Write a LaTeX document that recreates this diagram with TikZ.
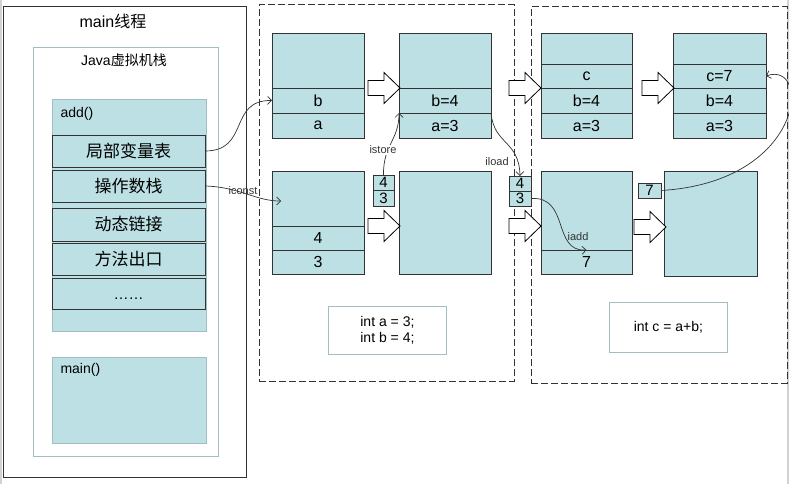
\documentclass[tikz,border=0pt]{standalone}
\usepackage{fontspec}
\setmainfont{Liberation Sans}
\newfontfamily\cjk{Noto Sans CJK SC}
\usetikzlibrary{positioning,arrows.meta}

\definecolor{stackfill}{HTML}{BCE0E3}
\definecolor{paleline}{HTML}{A3BEC2}
\definecolor{darkline}{HTML}{333333}

\tikzset{
	cell/.style={draw=darkline, fill=stackfill, line width=0.8pt, inner sep=0pt, outer sep=0pt, font=\fontsize{16}{16}\selectfont},
	row/.style={cell, minimum width=153, font=\cjk\fontsize{17}{17}\selectfont},
	stage/.style={draw=darkline, line width=1pt, dash pattern=on 7pt off 3pt, inner sep=0pt, outer sep=0pt},
	codebox/.style={draw=paleline, fill=white, line width=0.8pt, align=center, inner sep=0pt, font=\fontsize{14}{16}\selectfont},
	opname/.style={font=\fontsize{11}{11}\selectfont, text=darkline, inner sep=1pt},
	jump/.style={draw=darkline, line width=0.7pt, -{Straight Barb[length=4pt,width=8pt]}},
	fatarrow/.pic={
		\draw[fill=white, line width=0.8pt, line join=miter]
			(0,-7.5) -- (16,-7.5) -- (16,-15.5) -- (32,0) -- (16,15.5) -- (16,7.5) -- (0,7.5) -- cycle;
	}
}

\begin{document}
\begin{tikzpicture}[x=1pt, y=-1pt]
	\useasboundingbox (0,0) rectangle (789,484);
	\draw[gray!35, line width=2pt] (1,0) -- (1,484);
	\draw[gray!35, line width=2pt] (788,0) -- (788,484);

	% main thread and its stack
	\node[draw=darkline, line width=0.8pt, inner sep=0pt, minimum width=243, minimum height=471, anchor=north west] (thread) at (3,6) {};
	\node[font=\fontsize{16}{16}\selectfont] (threadname) at (113,21) {main{\cjk 线程}};
	\node[draw=paleline, line width=0.8pt, inner sep=0pt, minimum width=185, minimum height=409, anchor=north west] (jvm) at (33,47) {};
	\node[font=\fontsize{14}{14}\selectfont] (jvmname) at (124,60) {Java{\cjk 虚拟机栈}};
	\node[draw=paleline, fill=stackfill, line width=0.8pt, inner sep=0pt, minimum width=154, minimum height=232, anchor=north west] (addframe) at (52,99) {};
	\node[anchor=west, font=\fontsize{14}{14}\selectfont] (addname) at (57,114) {add()};
	\node[row, minimum height=32, anchor=north west] (vars) at (52,135) {局部变量表};
	\node[row, minimum height=32, below=3pt of vars] (ops) {操作数栈};
	\node[row, minimum height=33, below=6pt of ops] (dyn) {动态链接};
	\node[row, minimum height=32, below=2pt of dyn] (ret) {方法出口};
	\node[row, minimum height=31, below=3pt of ret, font=\fontsize{15}{15}\selectfont, text height=14pt, text depth=2pt] (more) {……};
	\node[draw=paleline, fill=stackfill, line width=0.8pt, inner sep=0pt, minimum width=154, minimum height=86, anchor=north west] (mainframe) at (52,357) {};
	\node[anchor=west, font=\fontsize{14}{14}\selectfont] (mainname) at (57,370) {main()};

	% the two stages
	\node[stage, minimum width=255, minimum height=376, anchor=north west] (stage1) at (259,5) {};
	\node[stage, minimum width=256, minimum height=376, anchor=north west] (stage2) at (531,7) {};

	% stage 1: locals
	\node[cell, minimum width=92, minimum height=55, anchor=north west] (lv1top) at (272,33) {};
	\node[cell, minimum width=92, minimum height=25, below=0pt of lv1top] (lv1b) {b};
	\node[cell, minimum width=92, minimum height=25, below=0pt of lv1b] (lv1a) {a};
	\node[cell, minimum width=92, minimum height=55, anchor=north west] (lv2top) at (399,33) {};
	\node[cell, minimum width=92, minimum height=25, below=0pt of lv2top] (lv2b) {b=4};
	\node[cell, minimum width=92, minimum height=25, below=0pt of lv2b] (lv2a) {a=3};
	% stage 1: operand stack
	\node[cell, minimum width=92, minimum height=55, anchor=north west] (os1top) at (272,171) {};
	\node[cell, minimum width=92, minimum height=24, below=0pt of os1top] (os1four) {4};
	\node[cell, minimum width=92, minimum height=24, below=0pt of os1four] (os1three) {3};
	\node[cell, minimum width=92, minimum height=103, anchor=north west] (os2) at (399,171) {};
	\node[cell, minimum width=21, minimum height=15.5, anchor=north west, font=\fontsize{15}{15}\selectfont] (ss1top) at (373,175) {4};
	\node[cell, minimum width=21, minimum height=15.5, below=0pt of ss1top, font=\fontsize{15}{15}\selectfont] (ss1bot) {3};
	\node[codebox, minimum width=118, minimum height=48, anchor=north west] (code1) at (328,306) {int a = 3;\\int b = 4;};

	% stage 2: locals
	\node[cell, minimum width=91, minimum height=31, anchor=north west] (lv3top) at (541,33) {};
	\node[cell, minimum width=91, minimum height=24, below=0pt of lv3top] (lv3c) {c};
	\node[cell, minimum width=91, minimum height=25, below=0pt of lv3c] (lv3b) {b=4};
	\node[cell, minimum width=91, minimum height=25, below=0pt of lv3b] (lv3a) {a=3};
	\node[cell, minimum width=93, minimum height=31, anchor=north west] (lv4top) at (673,33) {};
	\node[cell, minimum width=93, minimum height=24, below=0pt of lv4top] (lv4c) {c=7};
	\node[cell, minimum width=93, minimum height=25, below=0pt of lv4c] (lv4b) {b=4};
	\node[cell, minimum width=93, minimum height=25, below=0pt of lv4b] (lv4a) {a=3};
	% stage 2: operand stack
	\node[cell, minimum width=22, minimum height=15, anchor=north west, font=\fontsize{15}{15}\selectfont] (ss2top) at (509,176) {4};
	\node[cell, minimum width=22, minimum height=15, below=0pt of ss2top, font=\fontsize{15}{15}\selectfont] (ss2bot) {3};
	\node[cell, minimum width=91, minimum height=79, anchor=north west] (os3top) at (541,171) {};
	\node[cell, minimum width=91, minimum height=24, below=0pt of os3top] (os3seven) {7};
	\node[cell, minimum width=23, minimum height=15, anchor=north west, font=\fontsize{15}{15}\selectfont] (seven) at (638,183) {7};
	\node[cell, minimum width=93, minimum height=105, anchor=north west] (os4) at (664,171) {};
	\node[codebox, minimum width=118, minimum height=50, anchor=north west] (code2) at (609,302) {int c = a+b;};

	% hollow step arrows
	\pic at (368,88) {fatarrow};
	\pic at (368,226) {fatarrow};
	\pic at (509,88) {fatarrow};
	\pic at (642,88) {fatarrow};
	\pic at (509,226) {fatarrow};
	\pic at (634,227) {fatarrow};

	% byte code steps
	\coordinate (iconstend) at (281,201);
	\draw[jump] (vars.east) .. controls (250,151) and (228,100) .. (lv1b.west);
	\draw[jump] (ops.east) .. controls (240,187) and (255,201) .. (iconstend);
	\node[opname] (iconst) at (243,191) {iconst};
	\draw[jump] (ss1top.north) .. controls (383,145) and (399,140) .. (lv2a.north west);
	\node[opname, fill=white] (istore) at (383,150) {istore};
	\draw[jump] (lv2a.north east) .. controls (494,145) and (519,140) .. (ss2top.north);
	\node[opname] (iload) at (497,162) {iload};
	\draw[jump] (ss2bot.east) .. controls (570,196) and (552,252) .. (os3seven.north);
	\node[opname] (iadd) at (578,237) {iadd};
	\draw[jump] (seven.east) .. controls (805,182) and (812,60) .. (lv4c.east);
\end{tikzpicture}
\end{document}
